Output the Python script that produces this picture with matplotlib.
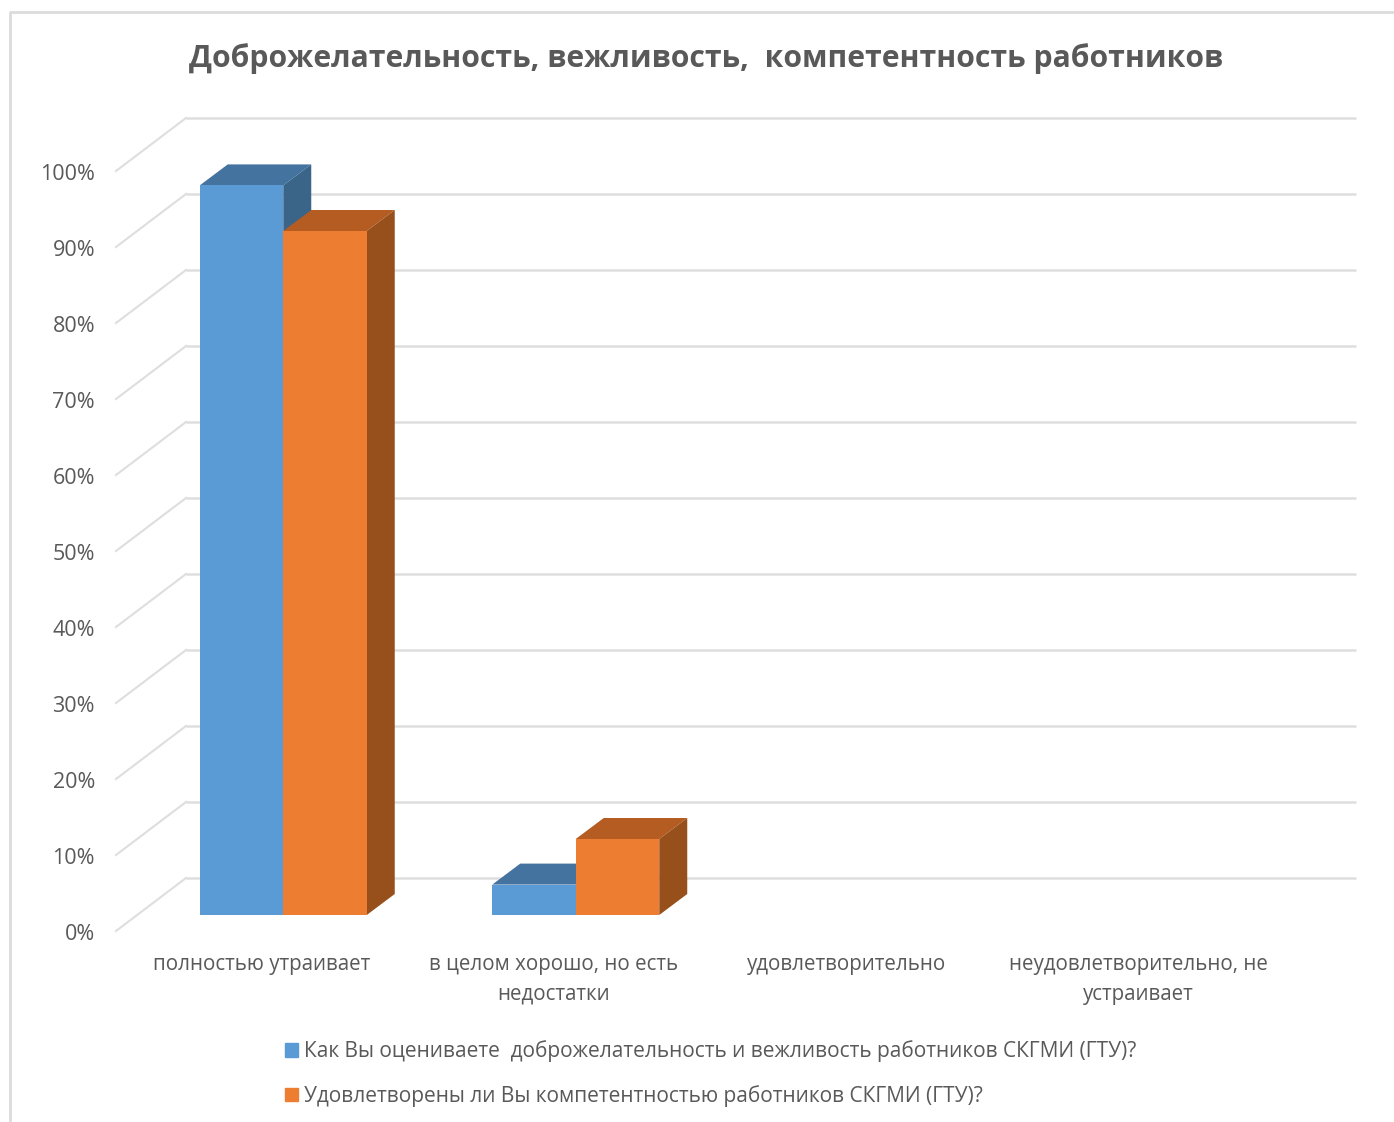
import matplotlib
matplotlib.use('Agg')
import matplotlib.pyplot as plt
from matplotlib.patches import Polygon, Rectangle, Patch

plt.rcParams['font.family'] = ['Open Sans', 'DejaVu Sans']

kategorii = ['полностью утраивает', 'в целом хорошо, но есть\nнедостатки',
             'удовлетворительно', 'неудовлетворительно, не\nустраивает']
tiki = [0, 10, 20, 30, 40, 50, 60, 70, 80, 90, 100]
seriya1 = [96, 4, 0, 0]
seriya2 = [90, 10, 0, 0]
nazv1 = 'Как Вы оцениваете  доброжелательность и вежливость работников СКГМИ (ГТУ)?'
nazv2 = 'Удовлетворены ли Вы компетентностью работников СКГМИ (ГТУ)?'
titul = 'Доброжелательность, вежливость,  компетентность работников'

W, H = 1394, 1122
SERYI = '#595959'
SETKA = '#dedede'

fig = plt.figure(figsize=(W/100, H/100), dpi=100)
# the axes is the back wall of the 3D box
ax = fig.add_axes([186/W, 1-878/H, 1170/W, 760/H])
ax.set_xlim(0, 4)
ax.set_ylim(0, 100)
ax.axis('off')

# pixels -> data units
px = 4/1170
py = 100/760

# floor depth and bar depth, in pixels
gl_x, gl_y = 70, 53
bar_x, bar_y = 28, 21
# gap from the back wall to the back of the bars
zaz_x, zaz_y = 21, 16
shir = 83.5*px


def setka():
    for t in tiki:
        ax.plot([0, 4], [t, t], color=SETKA, lw=1.8, solid_capstyle='butt', clip_on=False, zorder=1)
        ax.plot([0, -gl_x*px], [t, t-gl_y*py], color=SETKA, lw=1.5, clip_on=False, zorder=1)
        ax.text(-(gl_x+21)*px, t-(gl_y+4)*py, '%d%%' % t, ha='right', va='center',
                fontsize=15.5, color=SERYI)


def stolbik(x, v, cvet, verh, bok, z):
    if v == 0:
        return
    # lower left corner of the back face
    x0 = x-(zaz_x)*px
    y0 = -zaz_y*py
    dx, dy = bar_x*px, bar_y*py
    x1 = x0-dx
    y1 = y0-dy
    top = y1+v
    ax.add_patch(Polygon([(x1, top), (x1+shir, top), (x1+shir+dx, top+dy), (x1+dx, top+dy)],
                         fc=verh, ec='none', clip_on=False, zorder=z))
    ax.add_patch(Polygon([(x1+shir, y1), (x1+shir+dx, y1+dy), (x1+shir+dx, top+dy), (x1+shir, top)],
                         fc=bok, ec='none', clip_on=False, zorder=z))
    ax.add_patch(Rectangle((x1, y1), shir, v, fc=cvet, ec='none', clip_on=False, zorder=z+0.5))


setka()
for i in range(len(kategorii)):
    stolbik(i+0.5-shir, seriya1[i], '#5b9bd5', '#44739f', '#3a6488', 3+i)
    stolbik(i+0.5, seriya2[i], '#ed7d31', '#b45c21', '#97501b', 3+i+0.6)
    # category labels sit under the front edge of the floor
    ax.text(i+0.5-(gl_x+1)*px, -(53+23)*py, kategorii[i], ha='center', va='top', fontsize=14.8,
            color=SERYI, linespacing=1.55, clip_on=False)

fig.text(706/W, 1-59/H, titul, ha='center', va='center', fontsize=21.7, fontweight='bold', color=SERYI)

# legend, one entry per row
leg = fig.legend(handles=[Patch(color='#5b9bd5', label=nazv1), Patch(color='#ed7d31', label=nazv2)],
                 loc='upper left', bbox_to_anchor=(279/W, 1-1034/H), frameon=False, fontsize=15,
                 labelcolor=SERYI, handlelength=0.62, handleheight=0.62, handletextpad=0.3,
                 labelspacing=1.1, borderpad=0.3, borderaxespad=0)

# outer chart border, cut off by the image on the right and bottom
fig.add_artist(plt.Line2D([9.5/W, 9.5/W, 1], [0, 1-11.5/H, 1-11.5/H], color='#dcdcdc', lw=2))

fig.savefig('out.png', dpi=100)
